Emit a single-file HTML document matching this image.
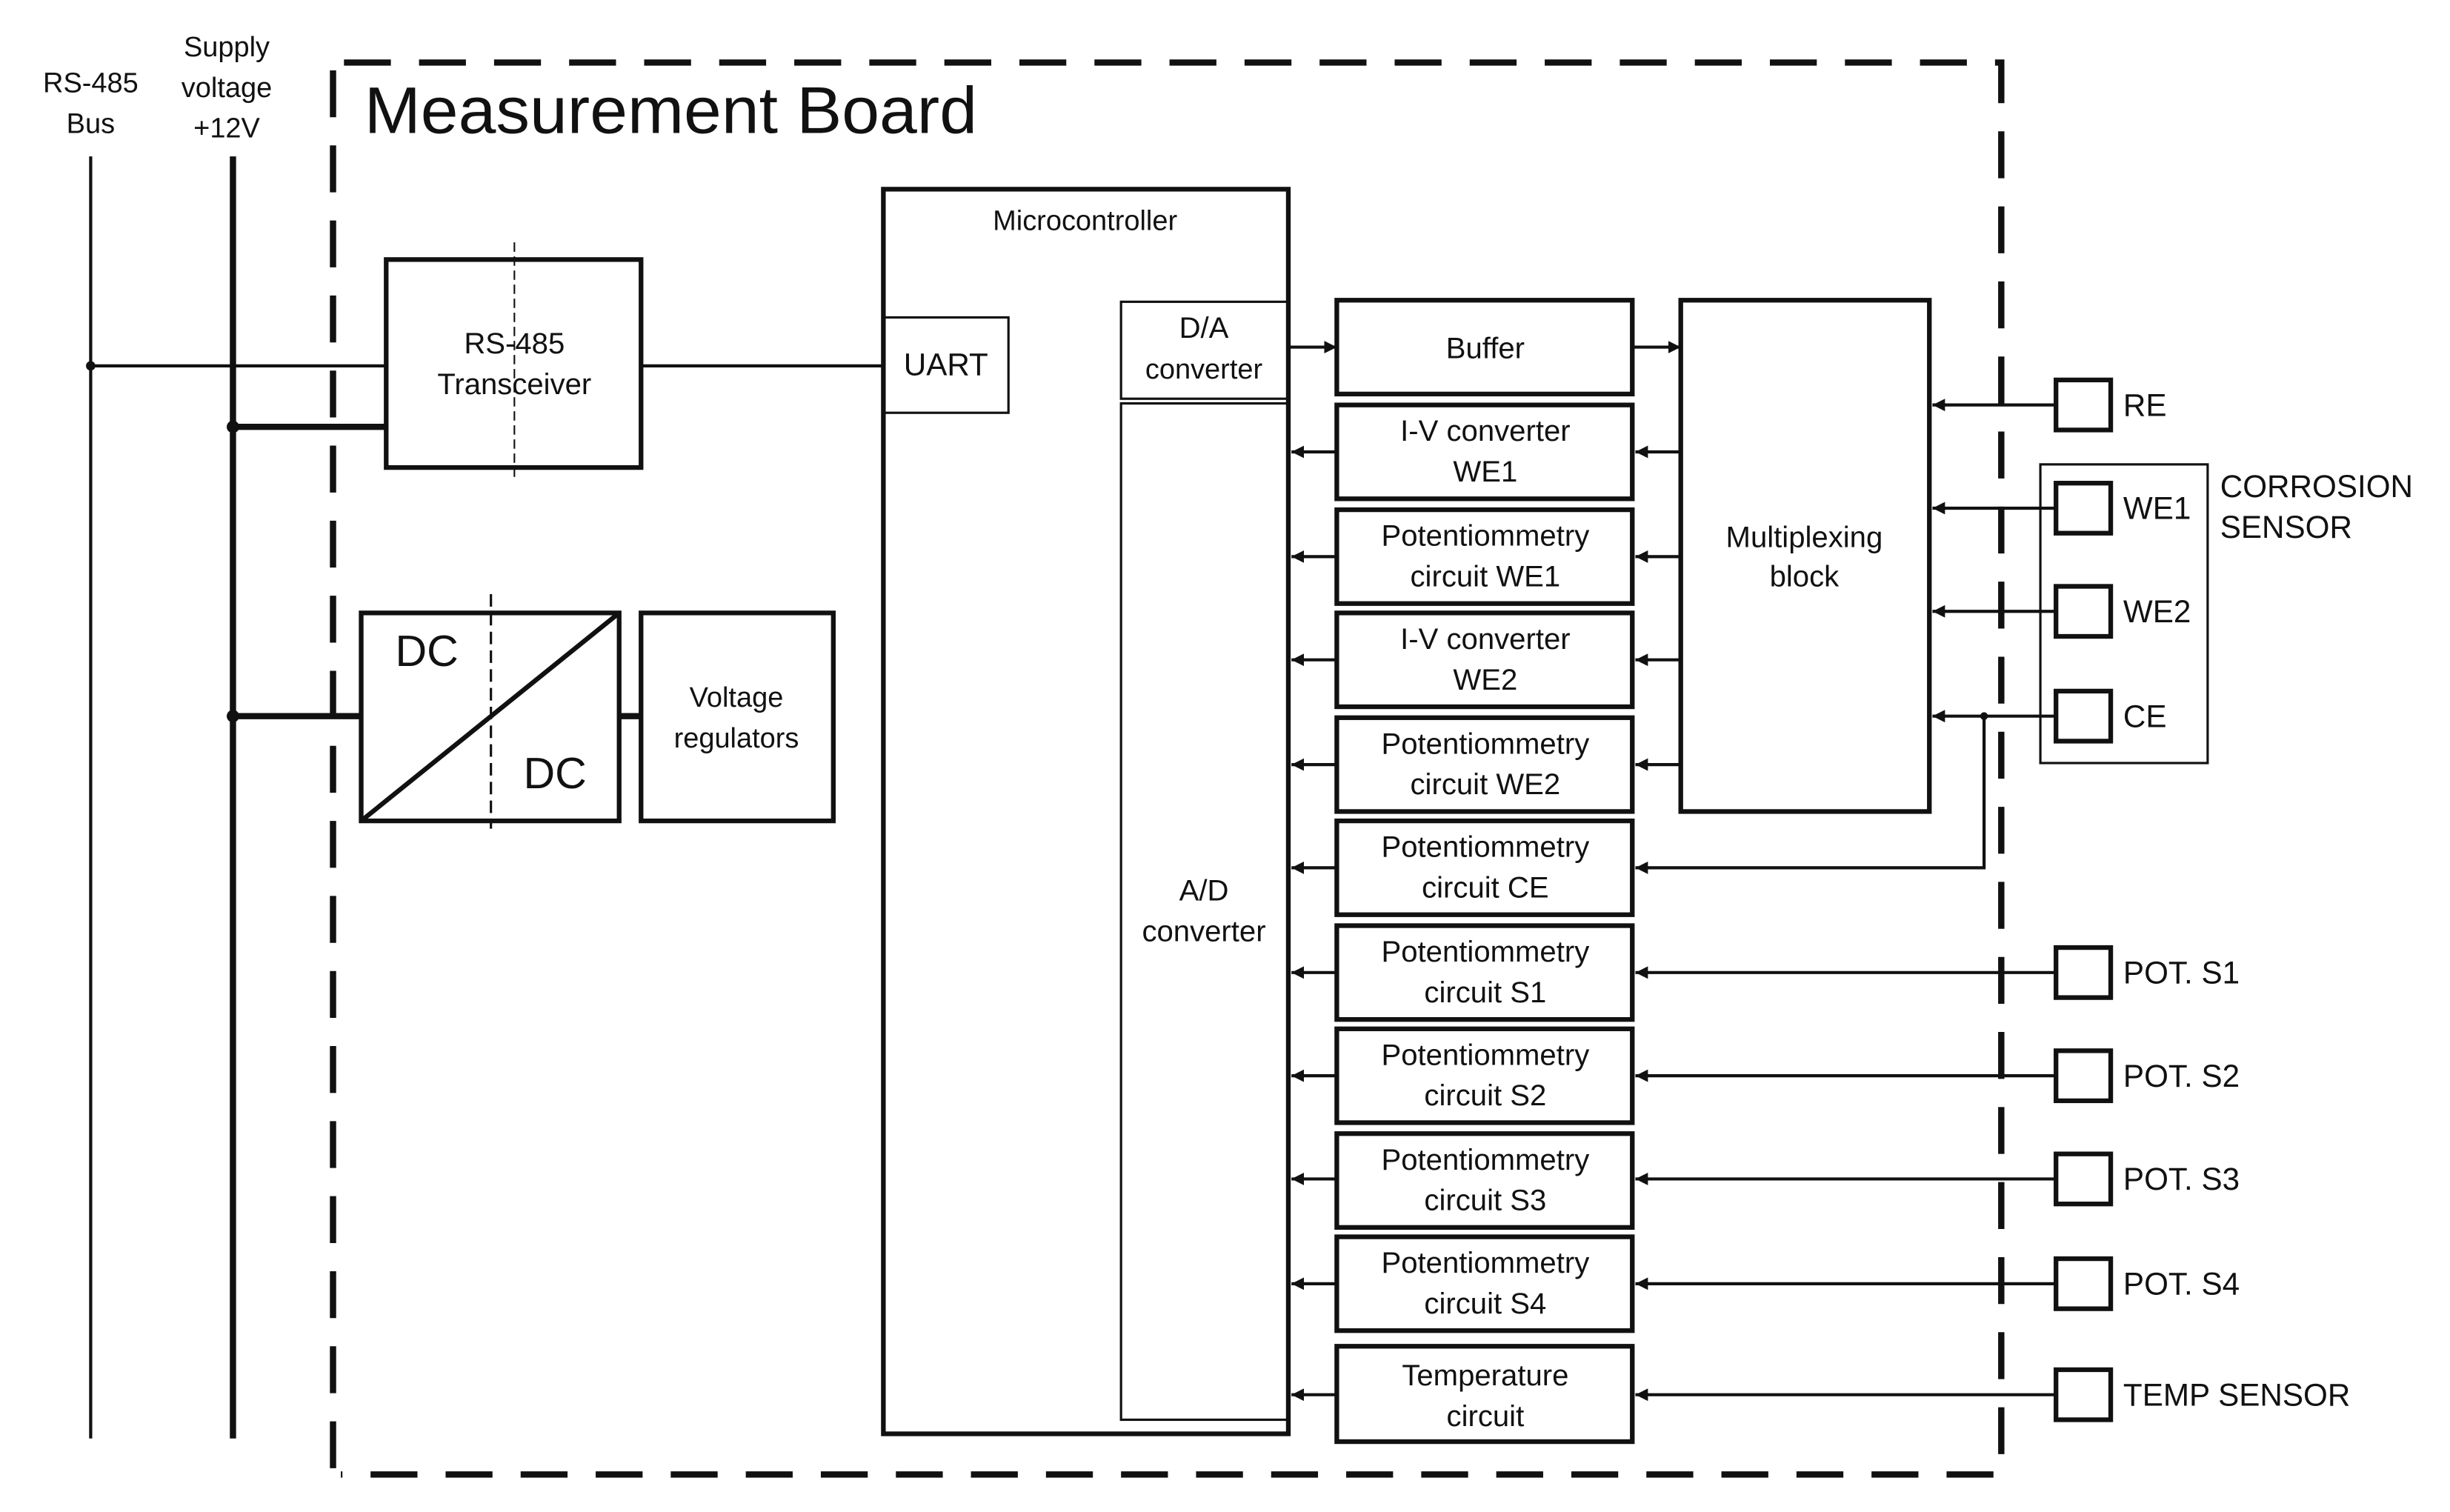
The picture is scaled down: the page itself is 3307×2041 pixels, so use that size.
<!DOCTYPE html>
<html><head><meta charset="utf-8"><style>
html,body{margin:0;padding:0;background:#fff;}
svg{display:block;}
text{font-family:"Liberation Sans",sans-serif;fill:#111;}
</style></head><body>
<svg width="3307" height="2041" viewBox="0 0 1567 967" preserveAspectRatio="none" xmlns="http://www.w3.org/2000/svg">
<defs>
<marker id="a" viewBox="0 0 10 10" refX="10" refY="5" markerWidth="8" markerHeight="8" orient="auto" markerUnits="userSpaceOnUse">
<path d="M0,0 L10,5 L0,10 z" fill="#111"/></marker>
</defs>
<g fill="none" stroke="#111">
<path d="M220,40 H1280 V943 H218" stroke-width="4" stroke-dasharray="30,18"/>
<path d="M213,45 V943" stroke-width="4" stroke-dasharray="30,18"/>
<line x1="58" y1="100" x2="58" y2="920" stroke-width="2"/>
<line x1="149" y1="100" x2="149" y2="920" stroke-width="4"/>
<line x1="58" y1="234" x2="247" y2="234" stroke-width="2"/>
<line x1="149" y1="273" x2="247" y2="273" stroke-width="4"/>
<line x1="149" y1="458" x2="231" y2="458" stroke-width="4"/>
<line x1="396" y1="458" x2="410" y2="458" stroke-width="4"/>
<line x1="410" y1="234" x2="565" y2="234" stroke-width="2"/>
<rect x="247" y="166" width="163" height="133" stroke-width="3"/>
<line x1="329" y1="155" x2="329" y2="305" stroke-width="1" stroke-dasharray="6,3"/>
<rect x="231" y="392" width="165" height="133" stroke-width="3"/>
<line x1="231" y1="525" x2="396" y2="392" stroke-width="3"/>
<line x1="314" y1="380" x2="314" y2="530" stroke-width="1.5" stroke-dasharray="8,4"/>
<rect x="410" y="392" width="123" height="133" stroke-width="3"/>
<rect x="565" y="121" width="259" height="796" stroke-width="3"/>
<rect x="565" y="203" width="80" height="61" stroke-width="1.5"/>
<rect x="717" y="193" width="107" height="62" stroke-width="1.5"/>
<rect x="717" y="258" width="107" height="650" stroke-width="1.5"/>
<g stroke-width="3">
<rect x="855" y="192" width="189" height="60"/>
<rect x="855" y="259" width="189" height="60"/>
<rect x="855" y="326" width="189" height="60"/>
<rect x="855" y="392" width="189" height="60"/>
<rect x="855" y="459" width="189" height="60"/>
<rect x="855" y="525" width="189" height="60"/>
<rect x="855" y="592" width="189" height="60"/>
<rect x="855" y="658" width="189" height="60"/>
<rect x="855" y="725" width="189" height="60"/>
<rect x="855" y="791" width="189" height="60"/>
<rect x="855" y="861" width="189" height="61"/>
<rect x="1075" y="192" width="159" height="327"/>
</g>
<g stroke-width="2" marker-end="url(#a)">
<line x1="824" y1="222" x2="855" y2="222"/>
<line x1="1044" y1="222" x2="1075" y2="222"/>
<line x1="855" y1="289" x2="826" y2="289"/>
<line x1="855" y1="356" x2="826" y2="356"/>
<line x1="855" y1="422" x2="826" y2="422"/>
<line x1="855" y1="489" x2="826" y2="489"/>
<line x1="855" y1="555" x2="826" y2="555"/>
<line x1="855" y1="622" x2="826" y2="622"/>
<line x1="855" y1="688" x2="826" y2="688"/>
<line x1="855" y1="754" x2="826" y2="754"/>
<line x1="855" y1="821" x2="826" y2="821"/>
<line x1="855" y1="892" x2="826" y2="892"/>
<line x1="1075" y1="289" x2="1046" y2="289"/>
<line x1="1075" y1="356" x2="1046" y2="356"/>
<line x1="1075" y1="422" x2="1046" y2="422"/>
<line x1="1075" y1="489" x2="1046" y2="489"/>
<line x1="1315" y1="259" x2="1236" y2="259"/>
<line x1="1315" y1="325" x2="1236" y2="325"/>
<line x1="1315" y1="391" x2="1236" y2="391"/>
<line x1="1315" y1="458" x2="1236" y2="458"/>
<path d="M1269,458 V555 H1046"/>
<line x1="1315" y1="622" x2="1046" y2="622"/>
<line x1="1315" y1="688" x2="1046" y2="688"/>
<line x1="1315" y1="754" x2="1046" y2="754"/>
<line x1="1315" y1="821" x2="1046" y2="821"/>
<line x1="1315" y1="892" x2="1046" y2="892"/>
</g>
<g stroke-width="3" fill="#fff">
<rect x="1315" y="243" width="35" height="32"/>
<rect x="1315" y="309" width="35" height="32"/>
<rect x="1315" y="375" width="35" height="32"/>
<rect x="1315" y="442" width="35" height="32"/>
<rect x="1315" y="606" width="35" height="32"/>
<rect x="1315" y="672" width="35" height="32"/>
<rect x="1315" y="738" width="35" height="32"/>
<rect x="1315" y="805" width="35" height="32"/>
<rect x="1315" y="876" width="35" height="32"/>
</g>
<rect x="1305" y="297" width="107" height="191" stroke-width="1.5"/>
</g>
<g fill="#111">
<circle cx="58" cy="234" r="3"/><circle cx="149" cy="273" r="4"/><circle cx="149" cy="458" r="4"/><circle cx="1269" cy="458" r="2.5"/>
</g>
<text x="233" y="85" font-size="42" textLength="392" lengthAdjust="spacingAndGlyphs">Measurement Board</text>
<g font-size="18" text-anchor="middle">
<text x="58" y="59">RS-485</text><text x="58" y="85">Bus</text>
<text x="145" y="36">Supply</text><text x="145" y="62">voltage</text><text x="145" y="88">+12V</text>
<text x="329" y="226" font-size="19">RS-485</text><text x="329" y="252" font-size="19">Transceiver</text>
<text x="471" y="452">Voltage</text><text x="471" y="478">regulators</text>
<text x="694" y="147">Microcontroller</text>
<text x="605" y="240" font-size="20">UART</text>
<text x="770" y="216" font-size="19">D/A</text><text x="770" y="242">converter</text>
<text x="770" y="576" font-size="19">A/D</text><text x="770" y="602" font-size="19">converter</text>
<text x="1154" y="350" font-size="19">Multiplexing</text><text x="1154" y="375" font-size="19">block</text>
</g>
<g font-size="19" text-anchor="middle">
<text x="950" y="229">Buffer</text>
<text x="950" y="282">I-V converter</text><text x="950" y="308">WE1</text>
<text x="950" y="349">Potentiommetry</text><text x="950" y="375">circuit WE1</text>
<text x="950" y="415">I-V converter</text><text x="950" y="441">WE2</text>
<text x="950" y="482">Potentiommetry</text><text x="950" y="508">circuit WE2</text>
<text x="950" y="548">Potentiommetry</text><text x="950" y="574">circuit CE</text>
<text x="950" y="615">Potentiommetry</text><text x="950" y="641">circuit S1</text>
<text x="950" y="681">Potentiommetry</text><text x="950" y="707">circuit S2</text>
<text x="950" y="748">Potentiommetry</text><text x="950" y="774">circuit S3</text>
<text x="950" y="814">Potentiommetry</text><text x="950" y="840">circuit S4</text>
<text x="950" y="886">Temperature</text><text x="950" y="912">circuit</text>
</g>
<g font-size="20">
<text x="273" y="426" font-size="28" text-anchor="middle">DC</text>
<text x="355" y="504" font-size="28" text-anchor="middle">DC</text>
<text x="1358" y="266">RE</text>
<text x="1358" y="332">WE1</text>
<text x="1358" y="398">WE2</text>
<text x="1358" y="465">CE</text>
<text x="1420" y="318">CORROSION</text>
<text x="1420" y="344">SENSOR</text>
<text x="1358" y="629">POT. S1</text>
<text x="1358" y="695">POT. S2</text>
<text x="1358" y="761">POT. S3</text>
<text x="1358" y="828">POT. S4</text>
<text x="1358" y="899">TEMP SENSOR</text>
</g>
</svg>
</body></html>
